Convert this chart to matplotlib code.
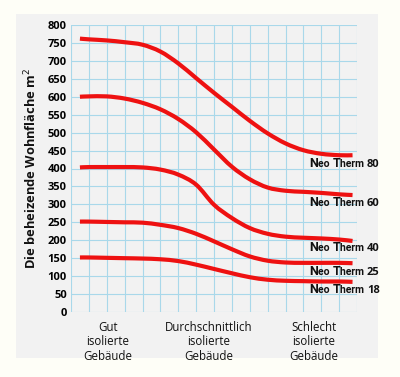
import matplotlib
matplotlib.use("Agg")
import matplotlib.pyplot as plt
from matplotlib.patches import Rectangle, PathPatch
from matplotlib.path import Path
from matplotlib.offsetbox import TextArea, HPacker, AnnotationBbox
from matplotlib import font_manager

# ---- data ----
x_pos = [0.5, 1, 2, 3, 4, 5, 6, 7, 8, 9, 10, 11, 12, 13, 14, 15, 15.75]
nt80 = [762, 760, 757, 752, 745, 726, 693, 652, 611, 572, 533, 498, 470, 451, 441, 437, 437]
nt60 = [600, 601, 601, 595, 583, 565, 538, 501, 453, 405, 370, 347, 338, 335, 332, 328, 326]
nt40 = [403, 404, 404, 404, 403, 397, 383, 355, 299, 262, 234, 218, 210, 207, 205, 202, 198]
nt25 = [252, 252, 251, 250, 249, 243, 234, 218, 197, 175, 155, 143, 138, 137, 137, 137, 136]
nt18 = [152, 152, 151, 150, 149, 147, 142, 132, 120, 108, 97, 90, 87, 86, 85, 85, 84]
series = [("80", nt80), ("60", nt60), ("40", nt40), ("25", nt25), ("18", nt18)]
label_y = {"80": 413, "60": 304, "40": 180, "25": 113, "18": 63}

cat_labels = ["Gut\nisolierte\nGebäude",
              "Durchschnittlich\nisolierte\nGebäude",
              "Schlecht\nisolierte\nGebäude"]
cat_pos = [2.07, 7.7, 13.6]
y_ticks = list(range(0, 801, 50))
ylabel = "Die beheizende Wohnfläche m$^2$"

FONT = "Open Sans"
names = {f.name for f in font_manager.fontManager.ttflist}
NARROW = "Liberation Sans Narrow" if "Liberation Sans Narrow" in names else "Roboto"


def smooth_path(xs, ys):
    """Catmull-Rom curve through the read points, as cubic Bezier segments."""
    verts = [(xs[0], ys[0])]
    codes = [Path.MOVETO]
    n = len(xs)
    for i in range(n - 1):
        x0, y0 = (xs[i - 1], ys[i - 1]) if i > 0 else (xs[i], ys[i])
        x1, y1 = xs[i], ys[i]
        x2, y2 = xs[i + 1], ys[i + 1]
        x3, y3 = (xs[i + 2], ys[i + 2]) if i + 2 < n else (x2, y2)
        c1 = (x1 + (x2 - x0) / 6, y1 + (y2 - y0) / 6)
        c2 = (x2 - (x3 - x1) / 6, y2 - (y3 - y1) / 6)
        verts += [c1, c2, (x2, y2)]
        codes += [Path.CURVE4] * 3
    return Path(verts, codes)


W, H = 400, 377
fig = plt.figure(figsize=(W / 100, H / 100), dpi=100)
fig.patch.set_facecolor("#fefef7")
fig.patches.append(Rectangle((16 / W, 1 - 358 / H), 362 / W, 344 / H,
                             transform=fig.transFigure, facecolor="#f2f2f2",
                             edgecolor="none", zorder=-5))

ax = fig.add_axes([71 / W, 1 - 312 / H, 286 / W, 287 / H])
ax.set_zorder(2)
ax.set_facecolor("none")
ax.set_xlim(0, 16)
ax.set_ylim(0, 800)
ax.set_xticks(range(0, 17))
ax.set_xticklabels([])
ax.set_yticks(y_ticks)
ax.set_yticklabels([str(v) for v in y_ticks], fontfamily=FONT,
                   fontweight="bold", fontsize=8)
ax.tick_params(axis="both", length=0, pad=3)
for s in ax.spines.values():
    s.set_visible(False)
ax.grid(True, color="#a9d8ea", linewidth=0.8)
ax.set_axisbelow(True)

for name, vals in series:
    ax.add_patch(PathPatch(smooth_path(x_pos, vals), facecolor="none",
                           edgecolor="#ee1111", linewidth=3.0,
                           capstyle="butt", joinstyle="round", zorder=3))
    parts = [("N", 9, NARROW),
             ("eo ", 7.5, NARROW),
             ("T", 9, NARROW),
             ("herm ", 7.5, NARROW),
             (name, 8.0, FONT)]
    boxes = [TextArea(t, textprops=dict(fontsize=fs, fontweight="bold",
                                        family=fam, color="#111111"))
             for t, fs, fam in parts]
    pack = HPacker(children=boxes, align="baseline", pad=0, sep=0)
    ab = AnnotationBbox(pack, (13.35, label_y[name]), xycoords="data",
                        box_alignment=(0, 0.5), frameon=False,
                        annotation_clip=False, pad=0, zorder=4)
    ax.add_artist(ab)

for lbl, xp in zip(cat_labels, cat_pos):
    ax.text(xp, -24, lbl, ha="center", va="top", fontsize=8.3,
            fontfamily=FONT, linespacing=1.15, color="#111111")

fig.text(31 / W, 1 - 168 / H, ylabel, rotation=90, ha="center", va="center",
         fontsize=9.3, fontweight="bold", fontfamily=FONT, color="#111111")

fig.savefig("out.png", dpi=100, facecolor=fig.get_facecolor())
